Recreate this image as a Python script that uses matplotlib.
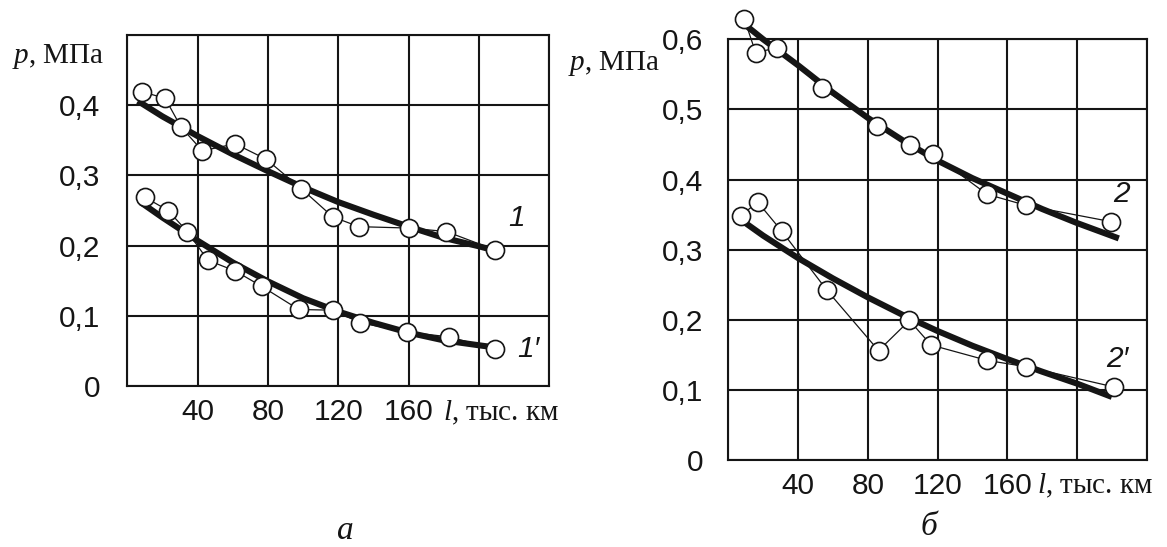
import matplotlib
matplotlib.use("Agg")
import matplotlib.pyplot as plt

plt.rcParams['mathtext.fontset'] = 'custom'
plt.rcParams['mathtext.it'] = 'Liberation Serif:italic'
plt.rcParams['mathtext.rm'] = 'Liberation Serif'

# ---------------- data: panel a ----------------
a_x1 = [8.4, 21.5, 30.5, 42.7, 61.3, 79, 99, 116.8, 131.6, 160, 181.5, 209]
a_y1 = [0.419, 0.410, 0.369, 0.335, 0.345, 0.323, 0.281, 0.241, 0.227, 0.225, 0.220, 0.194]
a_x1p = [9.9, 23.2, 34.1, 45.9, 61.3, 76.4, 97.5, 116.8, 132.6, 159, 182.7, 209]
a_y1p = [0.269, 0.250, 0.220, 0.179, 0.164, 0.142, 0.109, 0.108, 0.090, 0.077, 0.070, 0.053]
a_tx1 = [6, 20, 40, 60, 80, 100, 120, 140, 160, 180, 200, 209]
a_ty1 = [0.406, 0.384, 0.356, 0.330, 0.306, 0.283, 0.262, 0.244, 0.227, 0.211, 0.199, 0.193]
a_tx1p = [8, 20, 40, 60, 80, 100, 120, 140, 160, 180, 200, 209]
a_ty1p = [0.261, 0.240, 0.207, 0.176, 0.149, 0.125, 0.106, 0.090, 0.076, 0.065, 0.058, 0.055]

# ---------------- data: panel б ----------------
b_x2 = [9.2, 15.7, 28.2, 54, 85.2, 104.5, 117.4, 148.4, 171, 219.4]
b_y2 = [0.629, 0.581, 0.588, 0.530, 0.477, 0.449, 0.436, 0.379, 0.363, 0.340]
b_x2p = [7.1, 16.8, 30.8, 56.6, 86.2, 103.9, 116.3, 148.6, 171, 221.5]
b_y2p = [0.348, 0.368, 0.326, 0.242, 0.156, 0.199, 0.164, 0.142, 0.133, 0.104]
b_tx2 = [10, 20, 40, 60, 80, 100, 120, 140, 160, 180, 200, 224]
b_ty2 = [0.620, 0.600, 0.563, 0.524, 0.488, 0.456, 0.427, 0.402, 0.380, 0.358, 0.338, 0.316]
b_tx2p = [7, 20, 40, 60, 80, 100, 120, 140, 160, 180, 200, 220]
b_ty2p = [0.343, 0.320, 0.288, 0.259, 0.232, 0.207, 0.184, 0.163, 0.144, 0.126, 0.109, 0.090]

x_ticks = [0, 40, 80, 120, 160, 200, 240]
x_labels = ['', '40', '80', '120', '160', '', '']
a_yticks = [0, 0.1, 0.2, 0.3, 0.4, 0.5]
a_ylabels = ['0', '0,1', '0,2', '0,3', '0,4', '']
b_yticks = [0, 0.1, 0.2, 0.3, 0.4, 0.5, 0.6]
b_ylabels = ['0', '0,1', '0,2', '0,3', '0,4', '0,5', '0,6']

INK = '#151515'
W, H = 1167, 547
fig = plt.figure(figsize=(W / 100, H / 100), dpi=100)

def box(l, t, r, b):
    return [l / W, 1 - b / H, (r - l) / W, (b - t) / H]

ax_a = fig.add_axes(box(127.3, 35, 549.3, 386))
ax_b = fig.add_axes(box(728.3, 39.3, 1146.7, 460))

tick_font = dict(family='Liberation Sans', size=21.5)

def style(ax, ymax, yticks, ylabels, ypad):
    ax.set_xlim(0, 240)
    ax.set_ylim(0, ymax)
    ax.set_xticks(x_ticks)
    ax.set_xticklabels(x_labels, fontdict=tick_font)
    ax.set_yticks(yticks)
    ax.set_yticklabels(ylabels, fontdict=tick_font)
    ax.tick_params(length=0, colors=INK)
    ax.tick_params(axis='y', pad=ypad)
    ax.tick_params(axis='x', pad=9)
    ax.grid(True, color=INK, linewidth=1.5)
    ax.set_axisbelow(True)
    for s in ax.spines.values():
        s.set_color(INK)
        s.set_linewidth(1.5)

def series(ax, x, y, tx, ty):
    ax.plot(tx, ty, color=INK, linewidth=4.4, solid_capstyle='butt', zorder=3, clip_on=False)
    ax.plot(x, y, color=INK, linewidth=0.9, zorder=4, clip_on=False,
            marker='o', markersize=13, markerfacecolor='white',
            markeredgecolor=INK, markeredgewidth=1.2)

style(ax_a, 0.5, a_yticks, a_ylabels, 19.5)
style(ax_b, 0.6, b_yticks, b_ylabels, 18)

series(ax_a, a_x1, a_y1, a_tx1, a_ty1)
series(ax_a, a_x1p, a_y1p, a_tx1p, a_ty1p)
series(ax_b, b_x2, b_y2, b_tx2, b_ty2)
series(ax_b, b_x2p, b_y2p, b_tx2p, b_ty2p)

lab = dict(family='Liberation Sans', style='italic', size=21.5, color=INK,
           ha='center', va='center', zorder=6)
ax_a.text(221.6, 0.239, '1', **lab)
ax_a.text(228, 0.053, "1\u2032", **lab)
ax_b.text(225.4, 0.380, '2', **lab)
ax_b.text(223.2, 0.144, "2\u2032", **lab)

serif = dict(family='Liberation Serif', size=21, color=INK)
fig.text(12 / W, 1 - 63 / H, r'$p$, МПа', ha='left', va='baseline', **serif)
fig.text(443 / W, 1 - 420 / H, r'$l$, тыс. км', ha='left', va='baseline', **serif)
fig.text(568 / W, 1 - 70 / H, r'$p$, МПа', ha='left', va='baseline', **serif)
fig.text(1037 / W, 1 - 493 / H, r'$l$, тыс. км', ha='left', va='baseline', **serif)

big = dict(family='Liberation Serif', style='italic', size=24, color=INK,
           ha='center', va='bottom')
fig.text(345 / W, 1 - 546 / H, 'а', **big)
fig.text(929 / W, 1 - 542 / H, 'б', **big)

fig.savefig('out.png', dpi=100, facecolor='white')
